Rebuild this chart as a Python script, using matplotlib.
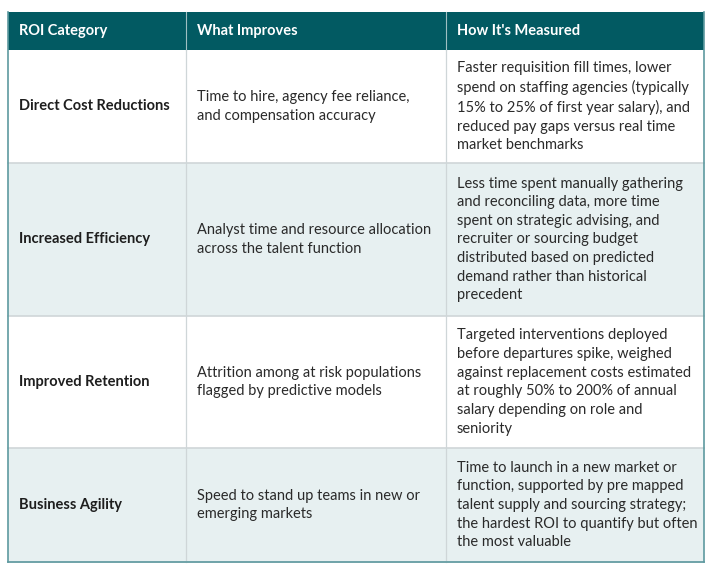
import matplotlib.pyplot as plt
from matplotlib.patches import Rectangle

plt.rcParams['font.family'] = ['Lato', 'DejaVu Sans']

headers = ["ROI Category", "What Improves", "How It's Measured"]
categories = ["Direct Cost Reductions", "Increased Efficiency",
              "Improved Retention", "Business Agility"]
improves = [
    "Time to hire, agency fee reliance,\nand compensation accuracy",
    "Analyst time and resource allocation\nacross the talent function",
    "Attrition among at risk populations\nflagged by predictive models",
    "Speed to stand up teams in new or\nemerging markets",
]
measured = [
    "Faster requisition fill times, lower\nspend on staffing agencies (typically\n15% to 25% of first year salary), and\nreduced pay gaps versus real time\nmarket benchmarks",
    "Less time spent manually gathering\nand reconciling data, more time\nspent on strategic advising, and\nrecruiter or sourcing budget\ndistributed based on predicted\ndemand rather than historical\nprecedent",
    "Targeted interventions deployed\nbefore departures spike, weighed\nagainst replacement costs estimated\nat roughly 50% to 200% of annual\nsalary depending on role and\nseniority",
    "Time to launch in a new market or\nfunction, supported by pre mapped\ntalent supply and sourcing strategy;\nthe hardest ROI to quantify but often\nthe most valuable",
]

col_x = [8, 186, 446, 704]
row_y = [12, 50, 163, 316, 448, 562]
teal = "#025a62"
alt = "#e7f0f1"
grid = "#cfd6d8"

fig = plt.figure(figsize=(7.12, 5.74), dpi=100)
ax = fig.add_axes([0, 0, 1, 1])
ax.set_xlim(0, 712)
ax.set_ylim(574, 0)
ax.axis("off")

ax.add_patch(Rectangle((col_x[0], row_y[0]), col_x[3] - col_x[0], row_y[1] - row_y[0],
                       facecolor=teal, edgecolor="none"))
for c, h in enumerate(headers):
    ax.text(col_x[c] + 11, (row_y[0] + row_y[1]) / 2, h, color="white",
            fontsize=10.5, fontweight="bold", va="center", ha="left")
    if c > 0:
        ax.plot([col_x[c], col_x[c]], [row_y[0], row_y[1]], color="#9fbfc2", lw=0.8)

for r in range(4):
    y0, y1 = row_y[r + 1], row_y[r + 2]
    ym = (y0 + y1) / 2
    ax.add_patch(Rectangle((col_x[0], y0), col_x[3] - col_x[0], y1 - y0,
                           facecolor=alt if r % 2 else "white", edgecolor="none"))
    ax.text(col_x[0] + 11, ym, categories[r], fontsize=10.5, fontweight="bold",
            color="#1e1e1e", va="center", ha="left")
    for c, txt in ((1, improves[r]), (2, measured[r])):
        ax.text(col_x[c] + 11, ym, txt, fontsize=10.5, color="#2a2a2a",
                va="center", ha="left", linespacing=1.42)
    ax.plot([col_x[0], col_x[3]], [y1, y1], color=grid, lw=1.2)

for x in col_x[1:3]:
    ax.plot([x, x], [row_y[1], row_y[-1]], color=grid, lw=0.9)
ax.plot([col_x[0], col_x[0]], [row_y[0], row_y[-1]], color="#5e9aa0", lw=1.2)
ax.plot([col_x[3], col_x[3]], [row_y[0], row_y[-1]], color="#5e9aa0", lw=1.2)
ax.plot([col_x[0], col_x[3]], [row_y[-1], row_y[-1]], color="#5e9aa0", lw=1.2)

fig.savefig("out.png", dpi=100)
